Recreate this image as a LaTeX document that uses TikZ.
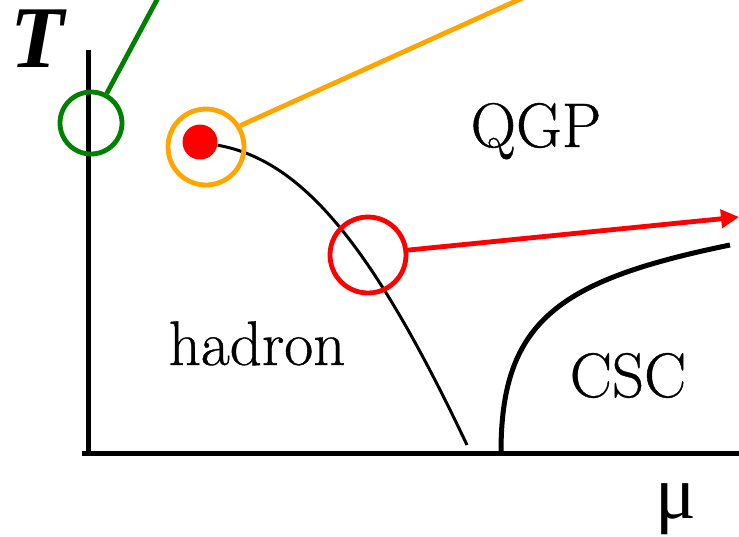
\documentclass[tikz,border=0pt]{standalone}
\usepackage{fontspec}
\setmainfont{Liberation Serif}
\newfontfamily\phasefont{Latin Modern Roman}[FakeBold=0.6]
\usetikzlibrary{arrows.meta}
\definecolor{ringgreen}{RGB}{0,128,0}
\definecolor{ringorange}{RGB}{255,165,0}
\definecolor{ringred}{RGB}{255,0,0}
\tikzset{
  axisline/.style={line width=2.5pt, black},
  ring/.style={circle, draw=#1, line width=2.4pt, inner sep=0pt},
  pointer/.style={line width=2.4pt, draw=#1},
  phaselabel/.style={inner sep=0pt, anchor=base, font=\phasefont\fontsize{31.5}{31.5}\selectfont},
}
\begin{document}
\begin{tikzpicture}[x=0.5pt, y=-0.5pt]
  \useasboundingbox (0,0) rectangle (739,536);
  \clip (0,0) rectangle (739,536);

  % axes
  \coordinate (ytop) at (88,50);
  \coordinate (xleft) at (82,453);
  \coordinate (xright) at (745,453);
  \draw[axisline] (ytop) -- (88,455);
  \draw[axisline] (xleft) -- (xright);

  % axis labels
  \node[inner sep=0pt, anchor=base, font=\rmfamily\fontsize{44}{44}\selectfont\bfseries\itshape] (tlabel) at (37,67) {T};
  \node[inner sep=0pt, anchor=base, font=\rmfamily\fontsize{38}{38}\selectfont] (mulabel) at (676,518) {μ};

  % phase labels
  \node[phaselabel] (qgp) at (536,147) {QGP};
  \node[phaselabel] (hadron) at (257,365) {hadron};
  \node[phaselabel] (csc) at (628,397) {CSC};

  % critical point and first-order line
  \node[circle, fill=ringred, inner sep=0pt, minimum size=17.5pt] (cp) at (200,142) {};
  \coordinate (lineend) at (467,445);
  \draw[line width=1.5pt] (cp) .. controls (300,160) and (370,240) .. (lineend);

  % colour-superconducting boundary
  \coordinate (cscfoot) at (501,452);
  \coordinate (cscend) at (730,245);
  \draw[line width=2.5pt] (cscfoot) .. controls (501,320) and (560,280) .. (cscend);

  % highlighted regions
  \node[ring=ringgreen, minimum size=31pt] (greenring) at (91,123) {};
  \node[ring=ringorange, minimum size=38pt] (orangering) at (206,147) {};
  \node[ring=ringred, minimum size=38pt] (redring) at (368,255) {};

  % pointers out of the rings
  \coordinate (greenout) at (159,-4);
  \coordinate (orangeout) at (527,-4);
  \coordinate (redout) at (739,217);
  \draw[pointer=ringgreen] (greenring.62) -- (greenout);
  \draw[pointer=ringorange] (orangering.32) -- (orangeout);
  \draw[pointer=ringred, -{Triangle[length=9pt, width=9pt]}] (redring.7) -- (redout);
\end{tikzpicture}
\end{document}
